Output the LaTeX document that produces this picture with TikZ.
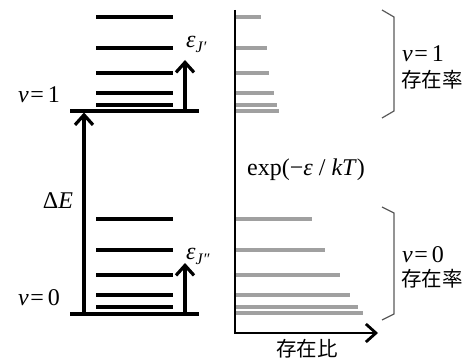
\documentclass[tikz,border=0pt]{standalone}
\usepackage{fontspec}
\setmainfont{Liberation Serif}
\newfontfamily\cjk{Noto Sans CJK JP}
\usetikzlibrary{arrows.meta}
\definecolor{barg}{RGB}{160,160,160}
\definecolor{braceg}{RGB}{90,90,90}
\begin{document}
\begin{tikzpicture}[x=1pt,y=-1pt,
  level/.style={line width=3.2pt},
  baseline/.style={line width=3.4pt},
  bar/.style={line width=4.2pt, draw=barg},
  arr/.style={line width=3.2pt,-{Straight Barb[length=10pt,width=18pt]}},
  axisline/.style={line width=2.8pt,-{Straight Barb[length=10pt,width=18pt]}},
  bracket/.style={line width=1.2pt, draw=braceg},
  lab/.style={font=\fontsize{24}{26}\selectfont, inner sep=0pt},
  jlab/.style={font=\cjk\fontsize{20.5}{22}\selectfont, inner sep=0pt}]
\useasboundingbox (0,0) rectangle (463,358);

% rotational levels, v=1
\foreach \y in {17,48,73,93,105} \draw[level] (96,\y) -- (173,\y);
% rotational levels, v=0
\foreach \y in {219,250,275,295,307} \draw[level] (96,\y) -- (173,\y);
% vibrational base levels
\coordinate (b1l) at (70,111); \coordinate (b1r) at (199,111);
\coordinate (b0l) at (70,314); \coordinate (b0r) at (199,314);
\draw[baseline] (b1l) -- (b1r);
\draw[baseline] (b0l) -- (b0r);

% arrows
\coordinate (dEs) at (84,314); \coordinate (dEe) at (84,112.5);
\draw[arr] (dEs) -- (dEe);
\coordinate (j1s) at (185,111); \coordinate (j1e) at (185,60);
\draw[arr] (j1s) -- (j1e);
\coordinate (j0s) at (185,314); \coordinate (j0e) at (185,263);
\draw[arr] (j0s) -- (j0e);

% population bars
\foreach \y/\x in {17/261,48/267,73/269,93/274,105/277,111/279,
                   219/312,250/325,275/340,295/350,307/358,313/363}
  \draw[bar] (236,\y) -- (\x,\y);

% axes
\coordinate (ax0) at (235,10); \coordinate (ax1) at (235,333); \coordinate (ax2) at (378,333);
\draw[axisline] (ax0) -- (ax1) -- (ax2);

% brackets
\draw[bracket] (382,10) -- (394,17) -- (394,111) -- (382,118);
\draw[bracket] (382,207) -- (394,213) -- (394,314) -- (382,320);

% labels
\node[lab, anchor=base west] (v1) at (18,103) {\textit{v}\kern1.5pt=\kern4pt1};
\node[lab, anchor=base west] (v0) at (18,305) {\textit{v}\kern1.5pt=\kern4pt0};
\node[lab] (dE) at (58,201) {Δ\textit{E}};
\node[lab, anchor=base west] (e1) at (186,48) {\textit{ε}\raisebox{-5pt}{\fontsize{16}{16}\selectfont\textit{J}\kern0.5pt′}};
\node[lab, anchor=base west] (e0) at (186,259) {\textit{ε}\raisebox{-5pt}{\fontsize{16}{16}\selectfont\textit{J}\kern0.5pt″}};
\node[lab, anchor=west] (ex) at (247,170) {exp(−\textit{ε}\hspace{6pt}/\hspace{6pt}\textit{kT})};
\node[lab, anchor=base west] (rv1) at (402,62) {\textit{v}\kern1.5pt=\kern4pt1};
\node[jlab, anchor=west] (rp1) at (401,80) {存在率};
\node[lab, anchor=base west] (rv0) at (402,262) {\textit{v}\kern1.5pt=\kern4pt0};
\node[jlab, anchor=west] (rp0) at (401,279) {存在率};
\node[jlab] (xl) at (307,349) {存在比};
\end{tikzpicture}
\end{document}
